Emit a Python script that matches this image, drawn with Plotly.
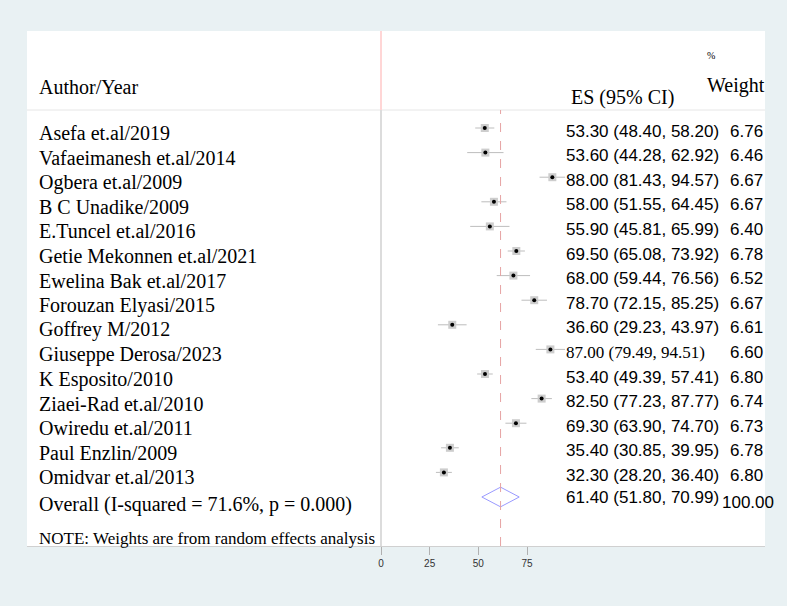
import plotly.graph_objects as go

# ---------------- data ----------------
authors = ["Asefa et.al/2019", "Vafaeimanesh et.al/2014", "Ogbera et.al/2009",
           "B C Unadike/2009", "E.Tuncel et.al/2016", "Getie Mekonnen et.al/2021",
           "Ewelina Bak et.al/2017", "Forouzan Elyasi/2015", "Goffrey M/2012",
           "Giuseppe Derosa/2023", "K Esposito/2010", "Ziaei-Rad et.al/2010",
           "Owiredu et.al/2011", "Paul Enzlin/2009", "Omidvar et.al/2013"]
es = [53.30, 53.60, 88.00, 58.00, 55.90, 69.50, 68.00, 78.70, 36.60, 87.00,
      53.40, 82.50, 69.30, 35.40, 32.30]
lower = [48.40, 44.28, 81.43, 51.55, 45.81, 65.08, 59.44, 72.15, 29.23, 79.49,
         49.39, 77.23, 63.90, 30.85, 28.20]
upper = [58.20, 62.92, 94.57, 64.45, 65.99, 73.92, 76.56, 85.25, 43.97, 94.51,
         57.41, 87.77, 74.70, 39.95, 36.40]
weights = ["6.76", "6.46", "6.67", "6.67", "6.40", "6.78", "6.52", "6.67", "6.61",
           "6.60", "6.80", "6.74", "6.73", "6.78", "6.80"]
overall_label = "Overall (I-squared = 71.6%, p = 0.000)"
overall_es, overall_lo, overall_hi = 61.40, 51.80, 70.99
overall_weight = "100.00"
xticks = [0, 25, 50, 75]
note = "NOTE: Weights are from random effects analysis"

# ---------------- layout geometry (pixels) ----------------
W, H = 787, 606
PL, PR, PT, PB = 27, 765, 31, 546          # white panel
X0PX, XSCALE = 381, 1.947                  # pixel of value 0, px per unit
ROW0, ROWH = 128, 24.6                     # pixel of first row, row height
xr = [(PL - X0PX) / XSCALE, (PR - X0PX) / XSCALE]
yr = [(PB - ROW0) / ROWH, (PT - ROW0) / ROWH]

def pxx(p):  # pixel x -> paper
    return (p - PL) / (PR - PL)

def pxy(p):  # pixel y -> paper
    return (PB - p) / (PB - PT)

n = len(authors)
rows = list(range(n))
orow = n
sep_row = (110 - ROW0) / ROWH

serif = "Liberation Serif, Times New Roman, serif"
sans = "Liberation Sans, Arial, sans-serif"

fig = go.Figure()

# squares + whiskers
fig.add_trace(go.Scatter(
    x=es, y=rows, mode="markers",
    marker=dict(symbol="square", size=8, color="#cdcdcd", line=dict(width=0)),
    error_x=dict(type="data", symmetric=False,
                 array=[u - e for u, e in zip(upper, es)],
                 arrayminus=[e - l for e, l in zip(es, lower)],
                 width=0, thickness=1, color="#bdbdbd"),
    hoverinfo="skip", showlegend=False))
# center dots
fig.add_trace(go.Scatter(
    x=es, y=rows, mode="markers",
    marker=dict(symbol="circle", size=4, color="black"),
    hoverinfo="skip", showlegend=False))
# diamond
fig.add_trace(go.Scatter(
    x=[overall_lo, overall_es, overall_hi, overall_es, overall_lo],
    y=[orow, orow - 0.4, orow, orow + 0.4, orow],
    mode="lines", line=dict(color="#9a9aff", width=1),
    hoverinfo="skip", showlegend=False))

shapes = [
    dict(type="line", xref="paper", yref="y", x0=0, x1=1, y0=sep_row, y1=sep_row,
         line=dict(color="#e6e6e6", width=1)),
    dict(type="line", xref="x", yref="paper", x0=0, x1=0, y0=pxy(110), y1=1,
         line=dict(color="#ffd6d6", width=2)),
    dict(type="line", xref="x", yref="paper", x0=0, x1=0, y0=0, y1=pxy(110),
         line=dict(color="#dcdcdc", width=2)),
    dict(type="line", xref="x", yref="paper", x0=overall_es, x1=overall_es,
         y0=0, y1=pxy(110), line=dict(color="#e6a3a3", width=1, dash="dash")),
]

ann = []
def add(text, x, y, yref="paper", size=20, family=serif, yshift=0):
    ann.append(dict(text=text, x=x, y=y, xref="paper", yref=yref,
                    xanchor="left", yanchor="middle", yshift=yshift, showarrow=False,
                    font=dict(family=family, size=size, color="black")))

add("Author/Year", pxx(37), pxy(87))
add("ES (95% CI)", pxx(569), pxy(97))
add("Weight", pxx(705), pxy(86))
add("%", pxx(705), pxy(56), size=10)

for i in rows:
    add(authors[i], pxx(37), i, yref="y", yshift=-5)
    fam = serif if authors[i].startswith("Giuseppe") else sans
    add(f"{es[i]:.2f} ({lower[i]:.2f}, {upper[i]:.2f})", pxx(564), i,
        yref="y", size=17, family=fam, yshift=-3)
    add(weights[i], pxx(728), i, yref="y", size=17, family=sans, yshift=-3)

add(overall_label, pxx(37), orow, yref="y", yshift=-7)
add(f"{overall_es:.2f} ({overall_lo:.2f}, {overall_hi:.2f})", pxx(564), orow,
    yref="y", size=17, family=sans)
add(overall_weight, pxx(720), orow, yref="y", size=17, family=sans, yshift=-5)
add(note, pxx(37), pxy(538), size=17)

fig.update_layout(
    width=W, height=H,
    margin=dict(l=PL, r=W - PR, t=PT, b=H - PB, pad=0),
    paper_bgcolor="#e9f1f3", plot_bgcolor="white",
    xaxis=dict(range=xr, tickvals=xticks, ticktext=[str(t) for t in xticks],
               showgrid=False, zeroline=False, ticks="outside", ticklen=8,
               tickcolor="#b0b0b0", tickwidth=1, showline=True, linecolor="#d0d0d0",
               tickfont=dict(family="Liberation Sans Narrow, " + sans, size=10, color="#333")),
    yaxis=dict(range=yr, showgrid=False, zeroline=False, showticklabels=False,
               ticks=""),
    shapes=shapes, annotations=ann,
)

fig.write_html("out.html", config={"displayModeBar": False},
               post_script="document.body.style.margin='0';document.body.style.padding='0';")
